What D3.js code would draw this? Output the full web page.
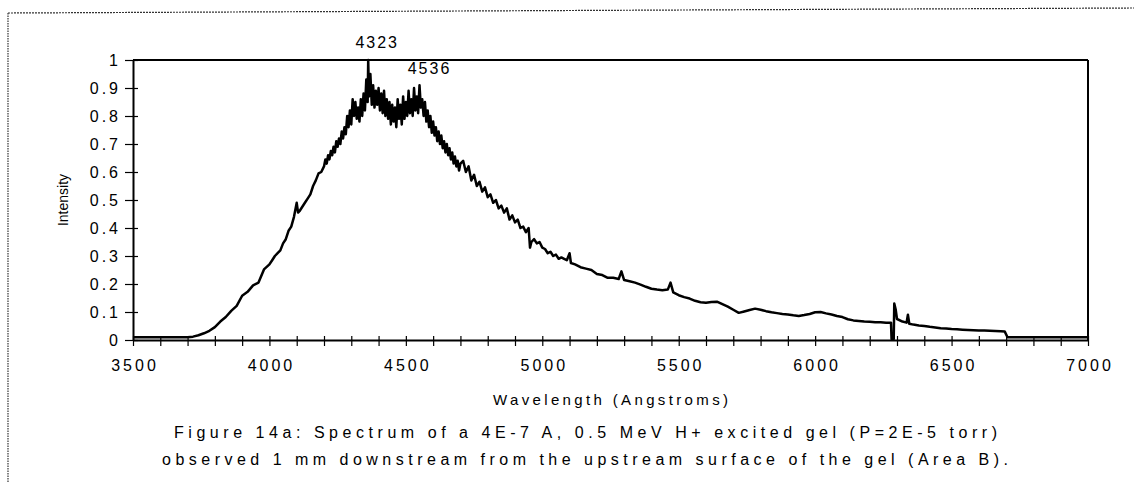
<!DOCTYPE html>
<html>
<head>
<meta charset="utf-8">
<script src="https://cdn.jsdelivr.net/npm/d3@7"></script>
<style>
  html, body { margin: 0; padding: 0; background: #fff; }
  svg { display: block; }
  text { font-family: "Liberation Sans", Arial, sans-serif; fill: #000; }
</style>
</head>
<body>
<svg id="chart" width="1134" height="483"></svg>
<script>
// ---- data ----
const wavelength = [
  3500, 3600, 3700, 3720, 3740, 3760, 3780, 3800, 3820, 3840,
  3860, 3880, 3900, 3920, 3940, 3960, 3980, 4000, 4010, 4020,
  4030, 4040, 4050, 4060, 4070, 4080, 4090, 4100, 4105, 4110,
  4120, 4130, 4140, 4150, 4160, 4170, 4180, 4190, 4200, 4205,
  4210, 4215, 4220, 4225, 4230, 4235, 4240, 4245, 4250, 4255,
  4260, 4265, 4270, 4275, 4280, 4285, 4290, 4295, 4300, 4305,
  4310, 4315, 4320, 4325, 4330, 4335, 4340, 4345, 4350, 4355,
  4360, 4362, 4365, 4370, 4375, 4380, 4385, 4390, 4395, 4400,
  4405, 4410, 4415, 4420, 4425, 4430, 4435, 4440, 4445, 4450,
  4455, 4460, 4465, 4470, 4475, 4480, 4485, 4490, 4495, 4500,
  4505, 4510, 4515, 4520, 4525, 4530, 4535, 4540, 4545, 4550,
  4555, 4560, 4565, 4570, 4575, 4580, 4585, 4590, 4595, 4600,
  4605, 4610, 4615, 4620, 4625, 4630, 4635, 4640, 4645, 4650,
  4655, 4660, 4665, 4670, 4675, 4680, 4685, 4690, 4695, 4700,
  4710, 4720, 4730, 4740, 4750, 4760, 4770, 4780, 4790, 4800,
  4810, 4820, 4830, 4840, 4850, 4860, 4870, 4880, 4890, 4900,
  4910, 4920, 4930, 4940, 4950, 4955, 4960, 4970, 4980, 4990,
  5000, 5010, 5020, 5030, 5040, 5050, 5060, 5070, 5080, 5090,
  5100, 5105, 5120, 5140, 5160, 5180, 5200, 5220, 5240, 5260,
  5280, 5290, 5300, 5320, 5340, 5360, 5380, 5400, 5420, 5440,
  5460, 5470, 5480, 5500, 5520, 5540, 5560, 5580, 5600, 5620,
  5640, 5660, 5680, 5700, 5720, 5740, 5760, 5780, 5800, 5820,
  5840, 5860, 5880, 5900, 5920, 5940, 5960, 5980, 6000, 6020,
  6040, 6060, 6080, 6100, 6120, 6140, 6160, 6180, 6200, 6220,
  6240, 6260, 6278, 6280, 6288, 6290, 6295, 6300, 6320, 6335,
  6340, 6345, 6360, 6380, 6400, 6420, 6440, 6460, 6480, 6500,
  6520, 6540, 6560, 6580, 6600, 6620, 6640, 6660, 6680, 6695,
  6705, 7000
];
const intensity = [
  0.01, 0.01, 0.01, 0.012, 0.017, 0.024, 0.033, 0.046, 0.066, 0.082,
  0.104, 0.122, 0.158, 0.172, 0.195, 0.205, 0.252, 0.27, 0.285, 0.30,
  0.31, 0.32, 0.345, 0.36, 0.39, 0.405, 0.44, 0.49, 0.455, 0.46,
  0.475, 0.49, 0.505, 0.52, 0.55, 0.57, 0.595, 0.60, 0.62, 0.645,
  0.63, 0.66, 0.645, 0.675, 0.66, 0.69, 0.67, 0.71, 0.69, 0.72,
  0.70, 0.745, 0.72, 0.76, 0.735, 0.80, 0.76, 0.82, 0.77, 0.86,
  0.80, 0.85, 0.79, 0.83, 0.78, 0.86, 0.80, 0.88, 0.82, 0.93,
  0.85, 1.00, 0.87, 0.95, 0.84, 0.91, 0.83, 0.89, 0.84, 0.90,
  0.82, 0.88, 0.81, 0.89, 0.80, 0.86, 0.79, 0.85, 0.77, 0.84,
  0.78, 0.83, 0.76, 0.86, 0.79, 0.84, 0.77, 0.87, 0.79, 0.85,
  0.80, 0.89, 0.81, 0.86, 0.80, 0.90, 0.82, 0.87, 0.81, 0.91,
  0.83, 0.86, 0.80, 0.85, 0.78, 0.82, 0.76, 0.80, 0.74, 0.78,
  0.73, 0.76, 0.71, 0.745, 0.70, 0.73, 0.685, 0.71, 0.67, 0.70,
  0.66, 0.685, 0.645, 0.67, 0.63, 0.655, 0.62, 0.64, 0.605, 0.63,
  0.64, 0.60, 0.62, 0.57, 0.59, 0.55, 0.565, 0.53, 0.545, 0.51,
  0.52, 0.49, 0.50, 0.47, 0.48, 0.455, 0.47, 0.43, 0.445, 0.42,
  0.43, 0.40, 0.405, 0.385, 0.40, 0.33, 0.35, 0.36, 0.345, 0.35,
  0.33, 0.325, 0.31, 0.315, 0.30, 0.305, 0.29, 0.295, 0.29, 0.285,
  0.31, 0.275, 0.27, 0.26, 0.255, 0.25, 0.236, 0.232, 0.222, 0.222,
  0.218, 0.245, 0.214, 0.21, 0.205, 0.198, 0.19, 0.183, 0.18, 0.178,
  0.18, 0.205, 0.17, 0.16, 0.153, 0.148, 0.14, 0.135, 0.133, 0.136,
  0.137, 0.128, 0.119, 0.108, 0.097, 0.102, 0.107, 0.112, 0.108, 0.103,
  0.099, 0.096, 0.093, 0.091, 0.088, 0.086, 0.089, 0.093, 0.099, 0.10,
  0.095, 0.091, 0.086, 0.082, 0.074, 0.07, 0.068, 0.066, 0.065, 0.063,
  0.063, 0.062, 0.062, 0.004, 0.004, 0.13, 0.11, 0.075, 0.066, 0.062,
  0.09, 0.058, 0.055, 0.052, 0.05, 0.047, 0.045, 0.042, 0.041, 0.039,
  0.038, 0.037, 0.036, 0.035, 0.034, 0.034, 0.033, 0.032, 0.031, 0.03,
  0.01, 0.01
];
const xTickValues = [3500,3600,3700,3800,3900,4000,4100,4200,4300,4400,4500,4600,4700,4800,4900,5000,5100,5200,5300,5400,5500,5600,5700,5800,5900,6000,6100,6200,6300,6400,6500,6600,6700,6800,6900,7000];
const xTickLabels = [3500, 4000, 4500, 5000, 5500, 6000, 6500, 7000];
const yTickValues = [0, 0.1, 0.2, 0.3, 0.4, 0.5, 0.6, 0.7, 0.8, 0.9, 1];
const peakLabels = ["4323", "4536"];
const peakWavelengths = [4362, 4550];
const peakValues = [1.00, 0.91];
const xTitle = "Wavelength (Angstroms)";
const yTitle = "Intensity";
const captionLines = [
  "Figure 14a: Spectrum of a 4E-7 A, 0.5 MeV H+ excited gel (P=2E-5 torr)",
  "observed 1 mm downstream from the upstream surface of the gel (Area B)."
];

// ---- drawing ----
const svg = d3.select("#chart");
const L = 133, R = 1088, T = 60, B = 340;
const x = d3.scaleLinear().domain([3500, 7000]).range([L, R]);
const y = d3.scaleLinear().domain([0, 1]).range([B, T]);
const FONT = '"Liberation Sans", Arial, sans-serif';

// outer dotted frame (scanned page border)
svg.append("line").attr("x1", 8).attr("y1", 13).attr("x2", 1134).attr("y2", 8)
  .attr("stroke", "#333").attr("stroke-width", 1.2).attr("stroke-dasharray", "2,1");
svg.append("line").attr("x1", 8).attr("y1", 13).attr("x2", 8).attr("y2", 483)
  .attr("stroke", "#333").attr("stroke-width", 1.2).attr("stroke-dasharray", "1.5,1");

// plot frame top and right
svg.append("line").attr("x1", L).attr("y1", T).attr("x2", R).attr("y2", T)
  .attr("stroke", "#000").attr("stroke-width", 2);
svg.append("line").attr("x1", R).attr("y1", T).attr("x2", R).attr("y2", B)
  .attr("stroke", "#000").attr("stroke-width", 2);

// x axis
const xAxis = d3.axisBottom(x).tickValues(xTickValues)
  .tickFormat(d => xTickLabels.includes(d) ? String(d) : "").tickSizeOuter(0);
const gx = svg.append("g").attr("transform", `translate(0,${B})`).call(xAxis);
gx.select(".domain").attr("stroke", "#000").attr("stroke-width", 2);
gx.selectAll(".tick line").attr("y1", -4).attr("y2", 6).attr("stroke", "#000").attr("stroke-width", 1.2);
gx.selectAll(".tick text").attr("y", 0).attr("dy", 31).attr("font-size", 16)
  .attr("letter-spacing", 3).attr("text-anchor", "middle").attr("dx", 1.5)
  .style("font-family", FONT).attr("fill", "#000");

// y axis
const yAxis = d3.axisLeft(y).tickValues(yTickValues).tickFormat(d => String(+d.toFixed(1))).tickSizeOuter(0);
const gy = svg.append("g").attr("transform", `translate(${L},0)`).call(yAxis);
gy.select(".domain").attr("stroke", "#000").attr("stroke-width", 2);
gy.selectAll(".tick line").attr("x1", -8).attr("x2", 5).attr("stroke", "#000").attr("stroke-width", 1.2);
gy.selectAll(".tick text").attr("x", -15).attr("dy", "0.36em").attr("font-size", 16)
  .attr("letter-spacing", 3).attr("text-anchor", "end").attr("dx", 3)
  .style("font-family", FONT).attr("fill", "#000");

// spectrum line
const pts = wavelength.map((w, i) => [w, intensity[i]]);
svg.append("path").datum(pts)
  .attr("fill", "none").attr("stroke", "#000").attr("stroke-width", 2.5)
  .attr("stroke-linejoin", "round")
  .attr("d", d3.line().x(d => x(d[0])).y(d => y(d[1])));

// peak labels
peakLabels.forEach((t, i) => {
  svg.append("text").attr("x", x(peakWavelengths[i]) + (i === 0 ? 9 : 10))
    .attr("y", y(peakValues[i]) - (i === 0 ? 12 : 11))
    .attr("text-anchor", "middle").attr("font-size", 16).attr("letter-spacing", 2).text(t);
});

// axis titles
svg.append("text").attr("x", (L + R) / 2).attr("y", 405).attr("text-anchor", "middle")
  .attr("font-size", 15).attr("textLength", 235).attr("lengthAdjust", "spacing").text(xTitle);
svg.append("text").attr("transform", `translate(68,${(T + B) / 2}) rotate(-90)`)
  .attr("text-anchor", "middle").attr("font-size", 14).text(yTitle);

// caption
svg.append("text").attr("x", 174).attr("y", 438).attr("font-size", 16)
  .attr("textLength", 823).attr("lengthAdjust", "spacing").text(captionLines[0]);
svg.append("text").attr("x", 162).attr("y", 465).attr("font-size", 16)
  .attr("textLength", 846).attr("lengthAdjust", "spacing").text(captionLines[1]);
</script>
</body>
</html>
